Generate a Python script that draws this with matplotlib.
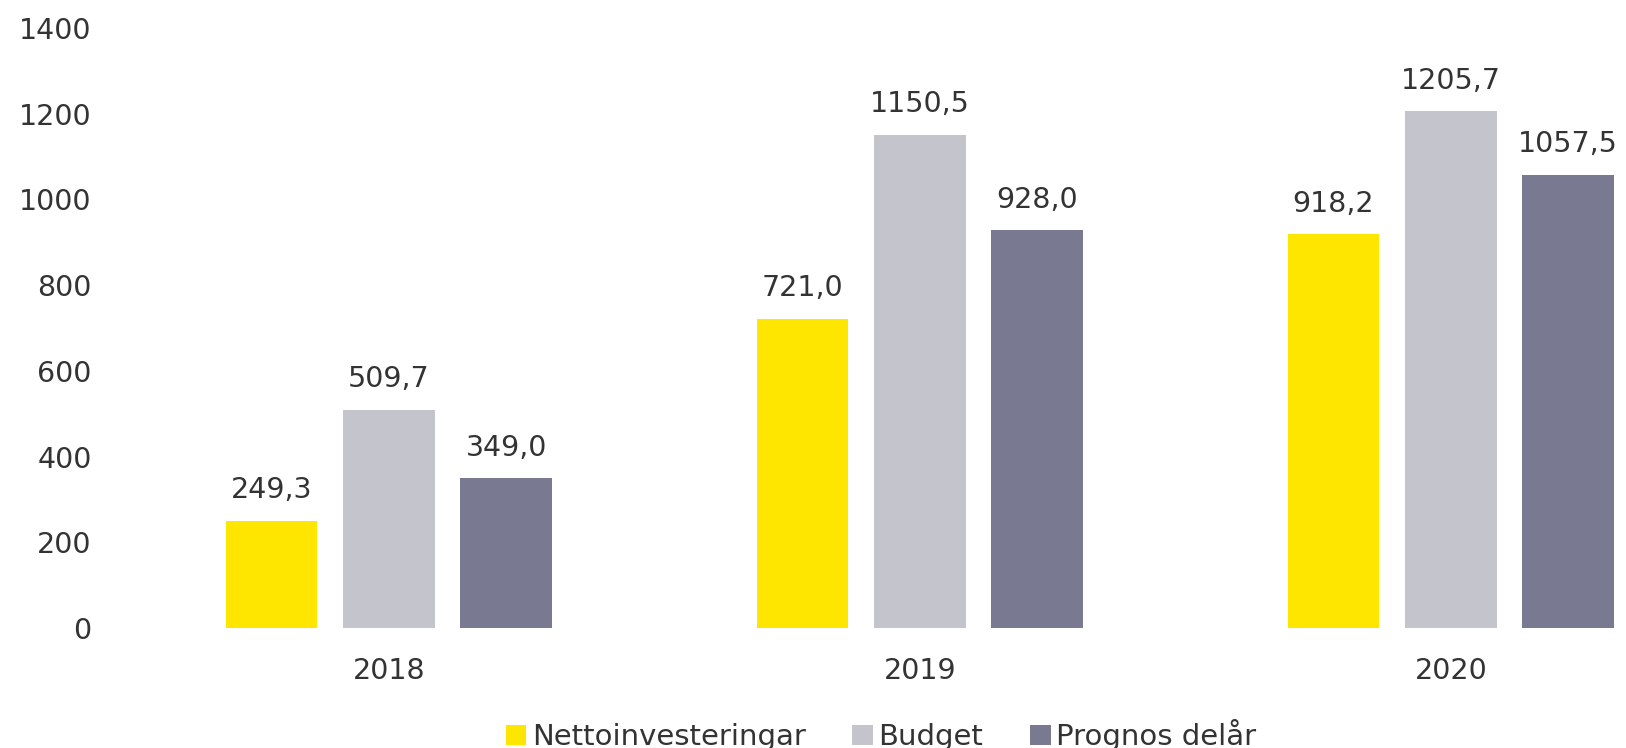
import matplotlib
matplotlib.use("Agg")
import matplotlib.pyplot as plt
import numpy as np

years = ["2018", "2019", "2020"]
series_names = ["Nettoinvesteringar", "Budget", "Prognos delår"]
netto = [249.3, 721.0, 918.2]
budget = [509.7, 1150.5, 1205.7]
prognos = [349.0, 928.0, 1057.5]
colors = ["#FFE600", "#C4C4CD", "#797991"]
yticks = [0, 200, 400, 600, 800, 1000, 1200, 1400]

W, H = 1626, 748
fig = plt.figure(figsize=(W / 100, H / 100), dpi=100)
ax = fig.add_axes([100 / W, 1 - 628 / H, (W - 100) / W, (628 - 28) / H])

x = np.arange(len(years))
bw = 0.173
off = 0.221
txt_color = "#333333"
font = ["DejaVu Sans"]
fs = 20.5
handles = []
for i, (vals, c, name) in enumerate(zip([netto, budget, prognos], colors, series_names)):
    pos = x + (i - 1) * off
    b = ax.bar(pos, vals, width=bw, color=c, label=name)
    handles.append(b)
    for p, v in zip(pos, vals):
        ax.annotate(f"{v:.1f}".replace(".", ","), (p, v), xytext=(0, 12),
                    textcoords="offset points", ha="center", va="bottom",
                    fontsize=fs, color=txt_color, family=font)

ax.set_xlim(-0.544, 2.33)
ax.set_ylim(0, 1400)
ax.set_yticks(yticks)
ax.set_yticklabels([str(t) for t in yticks], fontsize=fs, color=txt_color, family=font)
ax.set_xticks(x)
ax.set_xticklabels(years, fontsize=fs, color=txt_color, family=font)
ax.tick_params(axis="both", length=0)
ax.tick_params(axis="y", pad=6)
ax.tick_params(axis="x", pad=21)
for s in ax.spines.values():
    s.set_visible(False)

leg = fig.legend(handles=handles, labels=series_names, loc="center",
                 bbox_to_anchor=(881 / W, 1 - 735 / H), ncol=3, frameon=False,
                 prop={"family": ["DejaVu Sans"], "size": 21},
                 handlelength=0.7, handleheight=0.7, handletextpad=0.2, columnspacing=1.6,
                 labelcolor=txt_color)

fig.savefig("out.png", dpi=100)
